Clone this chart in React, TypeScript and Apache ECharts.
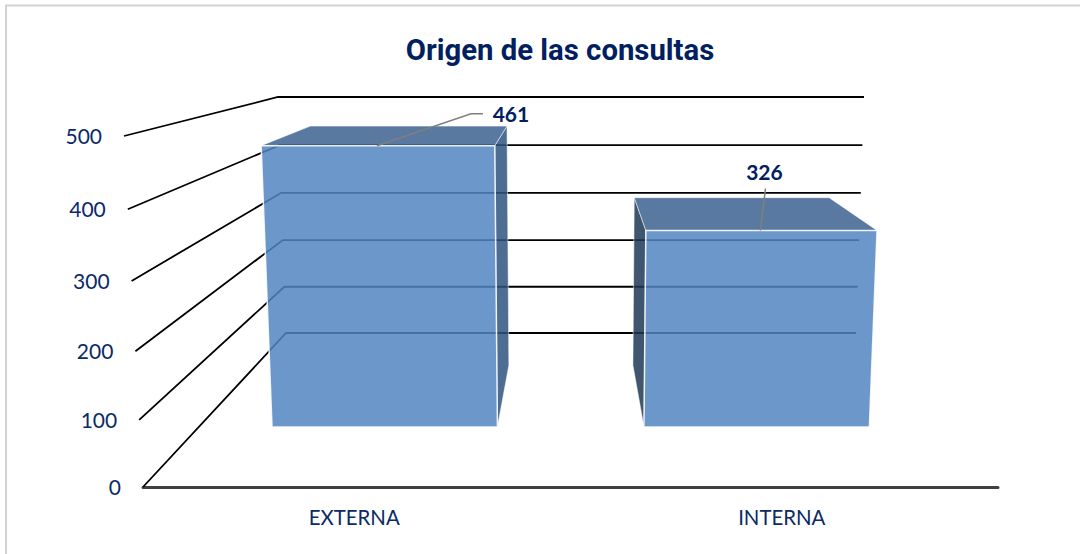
import React, { useEffect, useRef } from "react";
import * as echarts from "echarts";

const categories = ["EXTERNA", "INTERNA"];
const consultas = [461, 326];
const axisTicks = [0, 100, 200, 300, 400, 500];
const titleText = "Origen de las consultas";

const NAVY = "#002060";
const LABEL_NAVY = "#0b2a66";
const BAR_FILL = "rgba(82,133,194,0.85)";
const TOP_FILL = "rgba(61,97,143,0.85)";
const SIDE_RIGHT = "rgba(46,84,128,0.85)";
const SIDE_LEFT = "rgba(31,56,86,0.85)";

// Perspective of the 3D box, in terms of the front plane (the grid) and depth 0..1
const project = (cs: any, px: number, py: number, d: number) => {
  const u = (px - cs.x) / cs.width;
  const v = (cs.y + cs.height - py) / cs.height;
  const y0 = cs.y + cs.height;
  const frontL = cs.x - 19 * v;
  const frontR = cs.x + cs.width + 19 * v;
  const backL = cs.x + 143 - 8 * v;
  const backR = cs.x + cs.width - 142 + 8 * v;
  const frontY = y0 - cs.height * v + 19 * v * (1 - v);
  const backY = y0 - 154 - 236 * v + 6 * v * (1 - v);
  const l = frontL + (backL - frontL) * d;
  const r = frontR + (backR - frontR) * d;
  return [l + (r - l) * u, frontY + (backY - frontY) * d];
};

const renderWall = (params: any, api: any) => {
  const cs = params.coordSys;
  const value = api.value(1);
  const p = api.coord([0, value]);
  const a = project(cs, cs.x, p[1], 0);
  const b = project(cs, cs.x, p[1], 1);
  const c = project(cs, cs.x + cs.width, p[1], 1);
  return {
    type: "group",
    children: [
      { type: "polyline", shape: { points: [a, b, c] }, style: { stroke: "#000", lineWidth: 1.8, fill: "none" } },
      {
        type: "text",
        style: {
          text: String(value),
          x: a[0] - 22,
          y: a[1] - 0.5,
          fill: LABEL_NAVY,
          fontFamily: "Lato",
          fontSize: 21,
          align: "right",
          verticalAlign: "middle",
        },
      },
    ],
  };
};

const D_FRONT = 0.39;
const D_BACK = 0.79;
const LABEL_SHIFT = [
  { lx: 106, ly: -32, tx: 134, ty: -32 },
  { lx: 5, ly: -42, tx: 4, ty: -59 },
];

const renderBar = (params: any, api: any) => {
  const cs = params.coordSys;
  const i = api.value(0);
  const value = api.value(1);
  const top = api.coord([i, value]);
  const base = api.coord([i, 0]);
  const half = api.size([1, 0])[0] * 0.303;
  const xL = top[0] - half;
  const xR = top[0] + half;
  const pt = (x: number, y: number, d: number) => project(cs, x, y, d);
  const fTL = pt(xL, top[1], D_FRONT);
  const fTR = pt(xR, top[1], D_FRONT);
  const fBL = pt(xL, base[1], D_FRONT);
  const fBR = pt(xR, base[1], D_FRONT);
  const bTL = pt(xL, top[1], D_BACK);
  const bTR = pt(xR, top[1], D_BACK);
  const bBL = pt(xL, base[1], D_BACK);
  const bBR = pt(xR, base[1], D_BACK);
  const isLeft = top[0] < cs.x + cs.width / 2;
  const side = isLeft ? [fTR, bTR, bBR, fBR] : [fTL, bTL, bBL, fBL];
  const anchor = [(fTL[0] + fTR[0]) / 2 - 1, fTL[1]];
  const shift = LABEL_SHIFT[i];
  const leader = isLeft
    ? [anchor, [anchor[0] + 94, anchor[1] + shift.ly], [anchor[0] + shift.lx, anchor[1] + shift.ly]]
    : [anchor, [anchor[0] + shift.lx, anchor[1] + shift.ly]];
  const edge = "rgba(255,255,255,0.85)";
  return {
    type: "group",
    children: [
      { type: "polygon", shape: { points: side }, style: { fill: isLeft ? SIDE_RIGHT : SIDE_LEFT, stroke: edge, lineWidth: 0.6 } },
      { type: "polygon", shape: { points: [fTL, fTR, bTR, bTL] }, style: { fill: TOP_FILL, stroke: edge, lineWidth: 0.6 } },
      { type: "polygon", shape: { points: [fTL, fTR, fBR, fBL] }, style: { fill: BAR_FILL, stroke: edge, lineWidth: 1.5 } },
      { type: "polyline", shape: { points: leader }, style: { stroke: "#7f7f7f", lineWidth: 1.5, fill: "none" } },
      {
        type: "text",
        style: {
          text: String(value),
          x: anchor[0] + shift.tx,
          y: anchor[1] + shift.ty,
          fill: NAVY,
          fontFamily: "Lato",
          fontWeight: "bold",
          fontSize: 21,
          align: "center",
          verticalAlign: "middle",
        },
      },
    ],
  };
};

export default function App() {
  const ref = useRef<HTMLDivElement>(null);
  useEffect(() => {
    document.body.style.margin = "0";
    const chart = echarts.init(ref.current!, undefined, { renderer: "svg" });
    chart.setOption({
      animation: false,
      backgroundColor: "#ffffff",
      title: {
        text: titleText,
        left: 555,
        top: 30,
        textAlign: "center",
        textStyle: { fontFamily: "Roboto", fontWeight: "bold", fontSize: 29.3, color: NAVY },
      },
      grid: { left: 143, right: 82, top: 136, bottom: 67 },
      xAxis: {
        type: "category",
        data: categories,
        axisLine: { lineStyle: { color: "#404040", width: 3 } },
        axisTick: { show: false },
        axisLabel: { fontFamily: "Lato", fontSize: 20.4, color: LABEL_NAVY, margin: 20, padding: [0, 5, 0, 0] },
      },
      yAxis: { type: "value", min: 0, max: 500, interval: 100, show: false },
      graphic: [
        {
          type: "rect",
          silent: true,
          shape: { x: 6, y: 5.5, width: 1200, height: 700 },
          style: { fill: "none", stroke: "#d2d2d2", lineWidth: 2 },
        },
      ],
      series: [
        {
          type: "custom",
          name: "wall",
          silent: true,
          clip: false,
          z: 1,
          renderItem: renderWall,
          data: axisTicks.map((t) => [0, t]),
        },
        {
          type: "custom",
          name: "consultas",
          silent: true,
          clip: false,
          z: 2,
          renderItem: renderBar,
          data: consultas.map((v, i) => [i, v]),
        },
      ],
    });
    return () => chart.dispose();
  }, []);
  return <div ref={ref} style={{ width: 1080, height: 554 }} />;
}
